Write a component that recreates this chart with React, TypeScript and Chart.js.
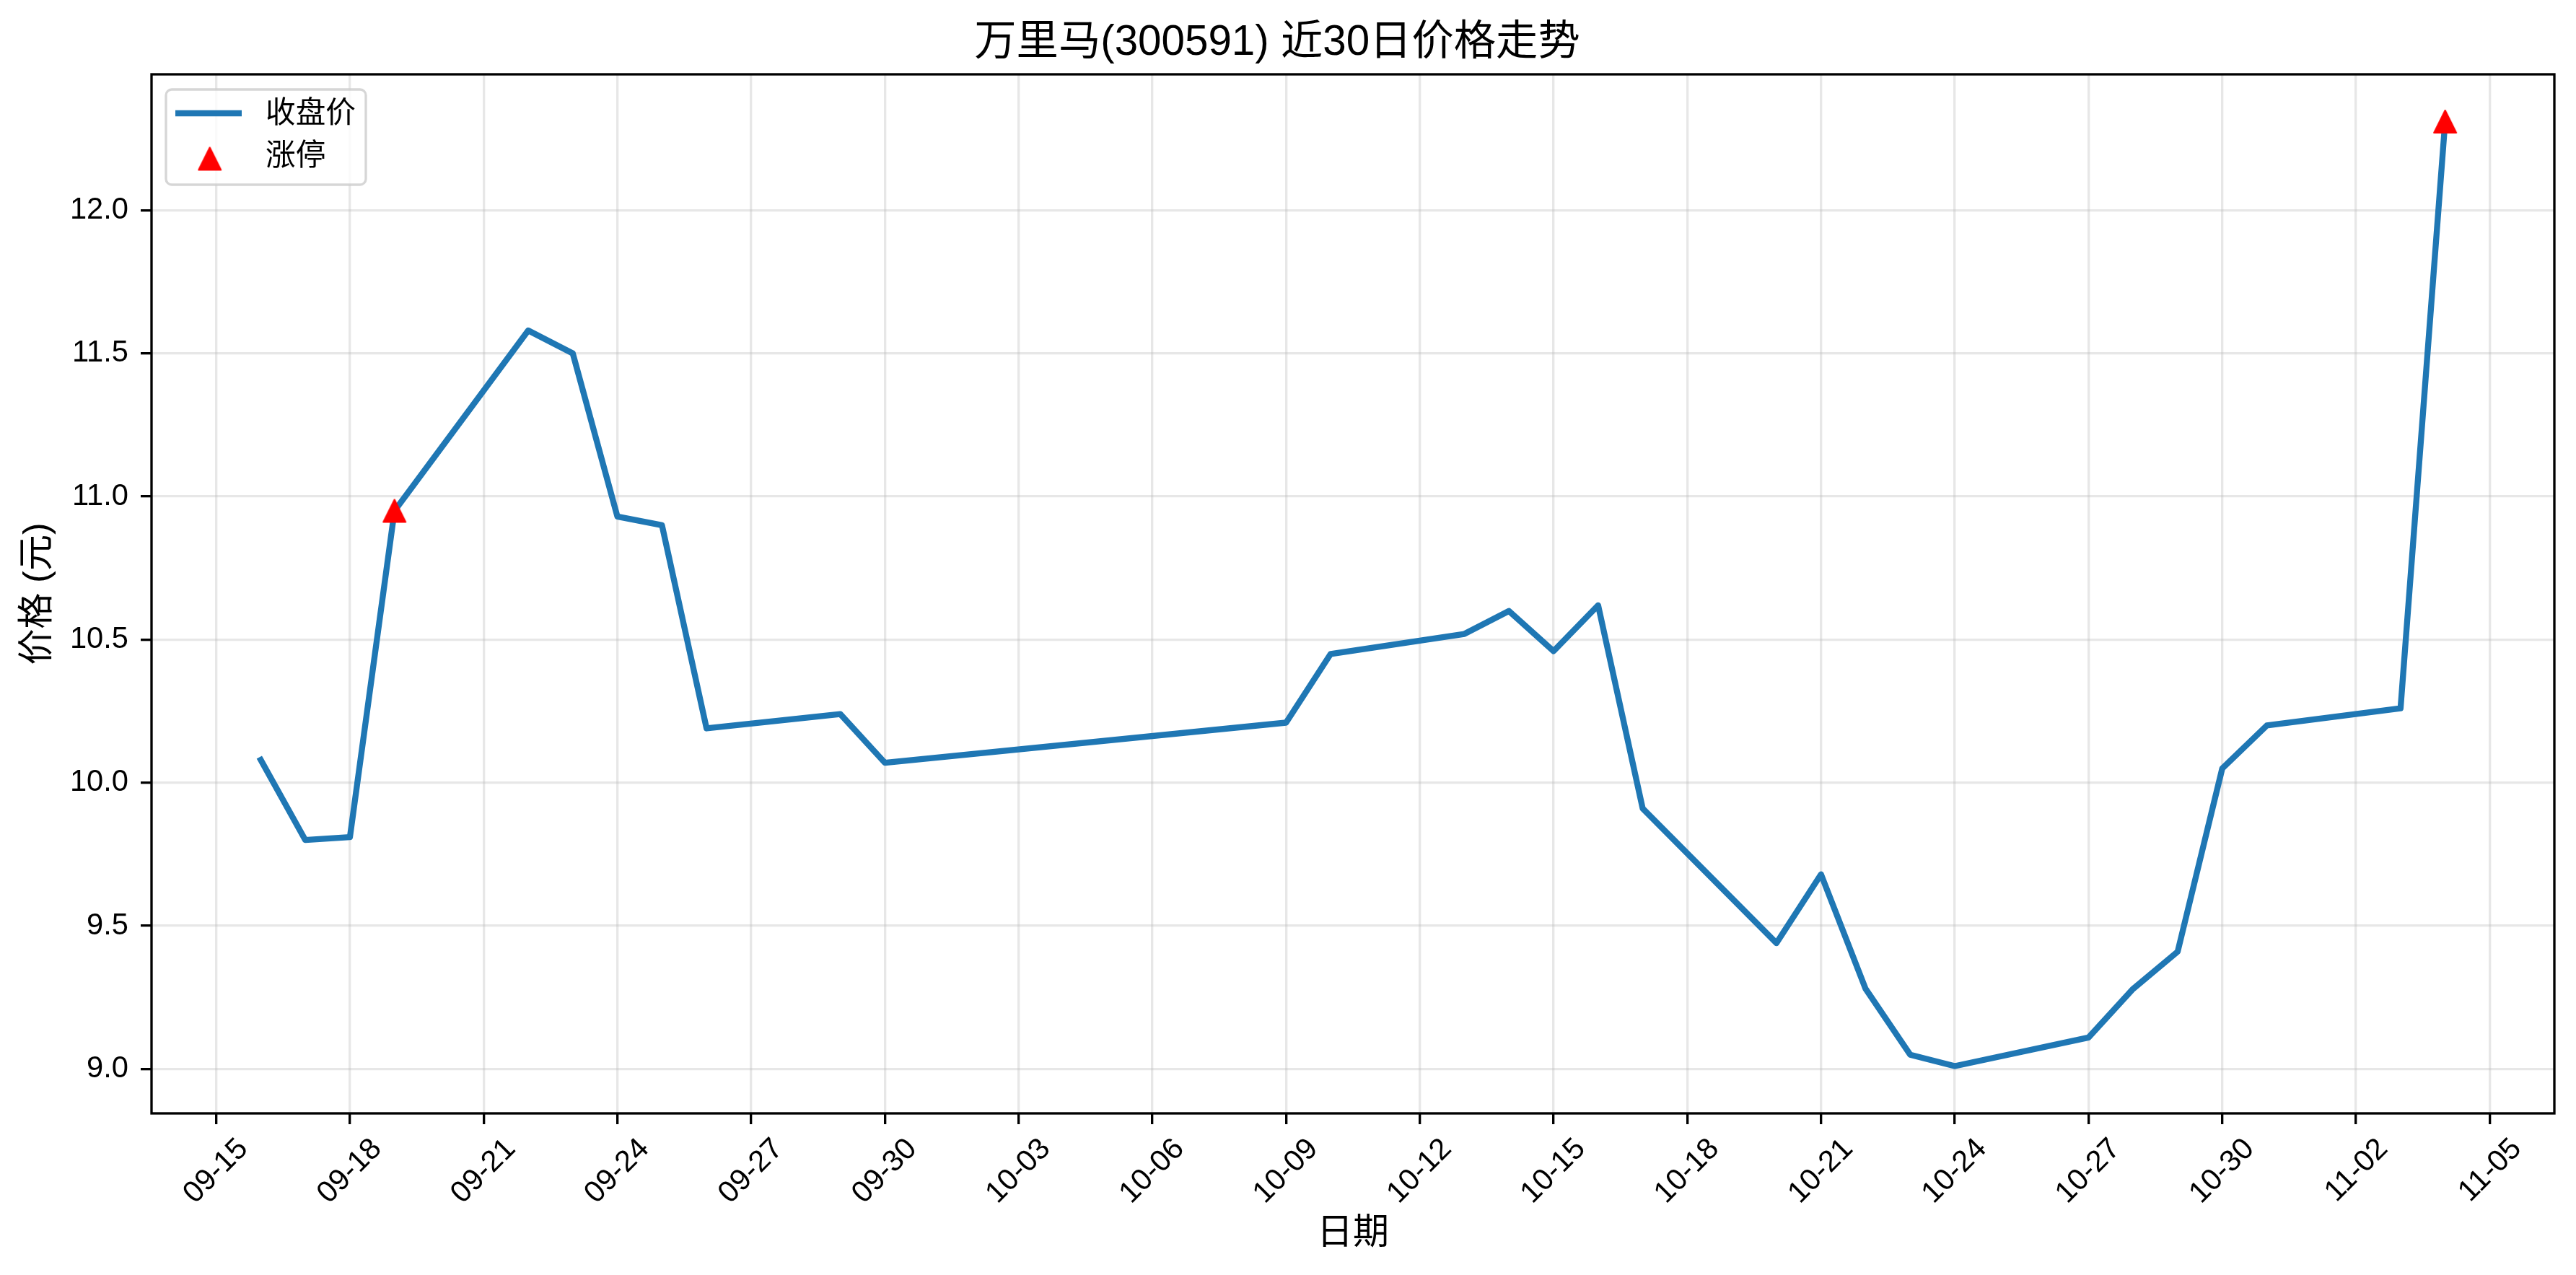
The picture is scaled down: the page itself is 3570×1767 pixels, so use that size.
import React, { useEffect, useRef } from 'react';
import { Chart, registerables } from 'chart.js';

Chart.register(...registerables);

const TITLE = '万里马(300591) 近30日价格走势';
const X_TITLE = '日期';
const Y_TITLE = '价格 (元)';
const YEAR = 2025;

const DATES = [
  '09-16', '09-17', '09-18', '09-19', '09-22', '09-23', '09-24', '09-25', '09-26', '09-29',
  '09-30', '10-09', '10-10', '10-13', '10-14', '10-15', '10-16', '10-17', '10-20', '10-21',
  '10-22', '10-23', '10-24', '10-27', '10-28', '10-29', '10-30', '10-31', '11-03', '11-04',
];
const CLOSE = [
  10.08, 9.8, 9.81, 10.95, 11.58, 11.5, 10.93, 10.9, 10.19, 10.24,
  10.07, 10.21, 10.45, 10.52, 10.6, 10.46, 10.62, 9.91, 9.44, 9.68,
  9.28, 9.05, 9.01, 9.11, 9.28, 9.41, 10.05, 10.2, 10.26, 12.31,
];
const LIMIT_UP_DATES = ['09-19', '11-04'];
const LIMIT_UP_PRICES = [10.95, 12.31];

const X_TICK_LABELS = [
  '09-15', '09-18', '09-21', '09-24', '09-27', '09-30', '10-03', '10-06', '10-09',
  '10-12', '10-15', '10-18', '10-21', '10-24', '10-27', '10-30', '11-02', '11-05',
];
const Y_TICKS = [9.0, 9.5, 10.0, 10.5, 11.0, 11.5, 12.0];

const SERIES_LABELS = ['收盘价', '涨停'];
const LINE_COLOR = '#1f77b4';
const MARK_COLOR = '#ff0000';

const FONT = '"Liberation Sans", Arial, "Noto Sans CJK SC", sans-serif';
const PT = 300 / 72;

const dayOf = (md: string) => {
  const [m, d] = md.split('-').map(Number);
  return (Date.UTC(YEAR, m - 1, d) - Date.UTC(YEAR, 8, 15)) / 86400000;
};

function makeTriangle(size: number) {
  const pad = 2;
  const c = document.createElement('canvas');
  c.width = size + pad * 2;
  c.height = size + pad * 2;
  const g = c.getContext('2d')!;
  const s = 2.2;
  g.fillStyle = MARK_COLOR;
  g.strokeStyle = MARK_COLOR;
  g.lineWidth = s;
  g.lineJoin = 'round';
  g.beginPath();
  g.moveTo(pad + size / 2, pad + s / 2);
  g.lineTo(pad + size - s / 2, pad + size - s / 2);
  g.lineTo(pad + s / 2, pad + size - s / 2);
  g.closePath();
  g.fill();
  g.stroke();
  return c;
}

export default function App() {
  const ref = useRef<HTMLCanvasElement | null>(null);

  useEffect(() => {
    document.body.style.margin = '0';
    const canvas = ref.current!;
    const tri = makeTriangle(33);

    const xs = DATES.map(dayOf);
    const xMinD = Math.min(...xs);
    const xMaxD = Math.max(...xs);
    const xm = (xMaxD - xMinD) * 0.05;
    const yMinD = Math.min(...CLOSE);
    const yMaxD = Math.max(...CLOSE);
    const ym = (yMaxD - yMinD) * 0.05;

    const framePlugin = {
      id: 'frame',
      afterDatasetsDraw(chart: any) {
        const { ctx, chartArea: a } = chart;
        ctx.save();
        ctx.strokeStyle = '#000';
        ctx.lineWidth = 0.8 * PT;
        ctx.strokeRect(a.left, a.top, a.right - a.left, a.bottom - a.top);
        ctx.restore();
      },
    };

    const legendPlugin = {
      id: 'mplLegend',
      afterDraw(chart: any) {
        const { ctx, chartArea: a } = chart;
        const ds = chart.data.datasets;
        const L = a.left;
        const T = a.top;
        ctx.save();
        ctx.beginPath();
        (ctx as any).roundRect(L + 20, T + 21, 277, 132, 8);
        ctx.fillStyle = 'rgba(255,255,255,0.8)';
        ctx.fill();
        ctx.strokeStyle = 'rgba(204,204,204,0.8)';
        ctx.lineWidth = 3.3;
        ctx.stroke();
        const lineDs = ds.find((d: any) => d.type !== 'scatter');
        const markDs = ds.find((d: any) => d.type === 'scatter');
        ctx.beginPath();
        ctx.moveTo(L + 33, T + 54);
        ctx.lineTo(L + 125, T + 54);
        ctx.strokeStyle = lineDs.borderColor;
        ctx.lineWidth = 2 * PT;
        ctx.lineCap = 'butt';
        ctx.stroke();
        ctx.drawImage(tri, L + 80.7 - tri.width / 2, T + 117 - tri.height / 2);
        ctx.fillStyle = '#000';
        ctx.font = `${10 * PT}px ${FONT}`;
        ctx.textAlign = 'left';
        ctx.textBaseline = 'middle';
        ctx.fillText(lineDs.label, L + 158, T + 56);
        ctx.fillText(markDs.label, L + 158, T + 115);
        ctx.restore();
      },
    };

    const chart = new Chart(canvas, {
      type: 'line',
      data: {
        datasets: [
          {
            type: 'line',
            label: SERIES_LABELS[0],
            data: DATES.map((d, i) => ({ x: dayOf(d), y: CLOSE[i] })),
            borderColor: LINE_COLOR,
            backgroundColor: LINE_COLOR,
            borderWidth: 2 * PT,
            borderJoinStyle: 'round',
            borderCapStyle: 'square',
            pointRadius: 0,
            tension: 0,
            order: 2,
          } as any,
          {
            type: 'scatter',
            label: SERIES_LABELS[1],
            data: LIMIT_UP_DATES.map((d, i) => ({ x: dayOf(d), y: LIMIT_UP_PRICES[i] })),
            pointStyle: tri,
            pointRadius: 16,
            backgroundColor: MARK_COLOR,
            borderColor: MARK_COLOR,
            showLine: false,
            order: 1,
          } as any,
        ],
      },
      options: {
        responsive: false,
        animation: false,
        devicePixelRatio: 1,
        layout: { padding: { left: 0, right: 30, top: 0, bottom: 0 } },
        plugins: {
          legend: { display: false },
          tooltip: { enabled: false },
          title: {
            display: true,
            text: TITLE,
            color: '#000',
            font: { family: FONT, size: 14 * PT, weight: 'normal' },
            padding: { top: 25, bottom: 8 },
          },
        },
        scales: {
          x: {
            type: 'linear',
            min: xMinD - xm,
            max: xMaxD + xm,
            afterBuildTicks: (s: any) => {
              s.ticks = X_TICK_LABELS.map((l) => ({ value: dayOf(l) }));
            },
            afterFit: (s: any) => {
              s.height = 224;
              s.paddingLeft = 0;
              s.paddingRight = 0;
            },
            grid: {
              color: 'rgba(176,176,176,0.3)',
              lineWidth: 0.8 * PT,
              tickColor: '#000',
              tickLength: 15,
              tickWidth: 0.8 * PT,
            },
            border: { display: false },
            ticks: {
              autoSkip: false,
              minRotation: 45,
              maxRotation: 45,
              labelOffset: 37.7,
              padding: 10,
              color: '#000',
              font: { family: FONT, size: 10 * PT },
              callback: (_v: any, i: number) => X_TICK_LABELS[i],
            },
            title: {
              display: true,
              text: X_TITLE,
              color: '#000',
              font: { family: FONT, size: 12 * PT },
              padding: { top: 0, bottom: 27 },
            },
          },
          y: {
            type: 'linear',
            min: yMinD - ym,
            max: yMaxD + ym,
            afterBuildTicks: (s: any) => {
              s.ticks = Y_TICKS.map((v) => ({ value: v }));
            },
            afterFit: (s: any) => {
              s.width = 210;
              s.paddingTop = 0;
              s.paddingBottom = 0;
            },
            grid: {
              color: 'rgba(176,176,176,0.3)',
              lineWidth: 0.8 * PT,
              tickColor: '#000',
              tickLength: 15,
              tickWidth: 0.8 * PT,
            },
            border: { display: false },
            ticks: {
              padding: 17,
              color: '#000',
              font: { family: FONT, size: 10 * PT },
              callback: (v: any) => Number(v).toFixed(1),
            },
            title: {
              display: true,
              text: Y_TITLE,
              color: '#000',
              font: { family: FONT, size: 12 * PT },
              padding: { top: 23.5, bottom: 0 },
            },
          },
        },
      } as any,
      plugins: [framePlugin, legendPlugin],
    });

    return () => chart.destroy();
  }, []);

  return (
    <div style={{ width: 3570, height: 1767, background: '#fff' }}>
      <canvas ref={ref} width={3570} height={1767} style={{ display: 'block', width: 3570, height: 1767 }} />
    </div>
  );
}
